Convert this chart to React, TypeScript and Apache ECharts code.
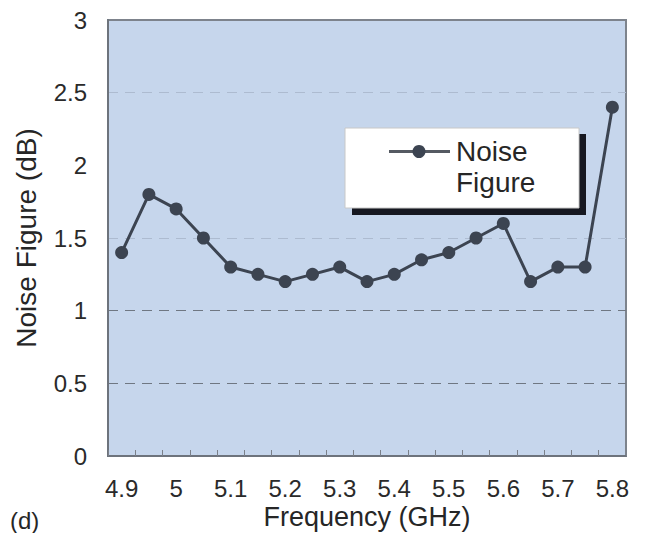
import React, { useEffect, useRef } from "react";
import * as echarts from "echarts";

const frequencies: number[] = [4.9, 4.95, 5.0, 5.05, 5.1, 5.15, 5.2, 5.25, 5.3, 5.35, 5.4, 5.45, 5.5, 5.55, 5.6, 5.65, 5.7, 5.75, 5.8];
const noiseFigure: number[] = [1.4, 1.8, 1.7, 1.5, 1.3, 1.25, 1.2, 1.25, 1.3, 1.2, 1.25, 1.35, 1.4, 1.5, 1.6, 1.2, 1.3, 1.3, 2.4];
const seriesName = "Noise Figure";
const xAxisTitle = "Frequency (GHz)";
const yAxisTitle = "Noise Figure (dB)";
const panelLabel = "(d)";

const FONT = "'Liberation Sans', Arial, Helvetica, sans-serif";
const LINE_COLOR = "#3c4451";

export default function App() {
  const ref = useRef<HTMLDivElement>(null);
  useEffect(() => {
    if (!ref.current) return;
    const chart = echarts.init(ref.current, undefined, { renderer: "svg" });
    const option: any = {
      animation: false,
      backgroundColor: "#ffffff",
      textStyle: { fontFamily: FONT },
      grid: {
        left: 108,
        right: 19,
        top: 20,
        bottom: 77,
        containLabel: false,
        outerBoundsMode: "none",
        show: true,
        backgroundColor: "#c6d6ec",
        borderColor: "#7d838c",
        borderWidth: 2,
      },
      xAxis: {
        type: "category",
        data: frequencies.map((f) => String(f)),
        boundaryGap: true,
        name: xAxisTitle,
        nameLocation: "middle",
        nameGap: 52,
        nameMoveOverlap: false,
        nameTextStyle: { fontSize: 27, lineHeight: 18, color: "#262626", fontFamily: FONT },
        axisLine: { show: true, lineStyle: { color: "#6d737c", width: 2 } },
        axisTick: { show: true, inside: true, length: 6, interval: 0, lineStyle: { color: "#7a8089", width: 1 } },
        axisLabel: {
          interval: 1,
          margin: 24,
          fontSize: 24,
          lineHeight: 16,
          color: "#2a2a2a",
          fontFamily: FONT,
          formatter: (v: string) => String(parseFloat(v)),
        },
        splitLine: { show: false },
      },
      yAxis: {
        type: "value",
        min: 0,
        max: 3,
        interval: 0.5,
        name: yAxisTitle,
        nameLocation: "middle",
        nameGap: 68,
        nameMoveOverlap: false,
        nameTextStyle: { fontSize: 28, color: "#262626", fontFamily: FONT },
        axisLine: { show: true, lineStyle: { color: "#6d737c", width: 2 } },
        axisTick: { show: false },
        axisLabel: { margin: 21, fontSize: 24, color: "#2a2a2a", fontFamily: FONT },
        splitLine: {
          show: true,
          lineStyle: {
            type: [10, 7],
            width: 1,
            color: [
              "rgba(0,0,0,0)",
              "#6f7782",
              "#6f7782",
              "#adbbd0",
              "rgba(0,0,0,0)",
              "#adbbd0",
              "rgba(0,0,0,0)",
            ],
          },
        },
      },
      series: [
        {
          name: seriesName,
          type: "line",
          data: noiseFigure,
          symbol: "circle",
          symbolSize: 13,
          lineStyle: { color: LINE_COLOR, width: 3 },
          itemStyle: { color: LINE_COLOR },
          z: 3,
        },
      ],
      graphic: [
        { type: "rect", z: 10, shape: { x: 352, y: 134, width: 234, height: 81 }, style: { fill: "#161821" } },
        { type: "rect", z: 11, shape: { x: 345, y: 128, width: 234, height: 80 }, style: { fill: "#ffffff", stroke: "#c8c8c8", lineWidth: 1 } },
        { type: "line", z: 12, shape: { x1: 389, y1: 151.5, x2: 450, y2: 151.5 }, style: { stroke: "#555a62", lineWidth: 3 } },
        { type: "circle", z: 13, shape: { cx: 419, cy: 151.5, r: 6.5 }, style: { fill: LINE_COLOR } },
        {
          type: "text",
          z: 13,
          x: 456,
          y: 136,
          style: {
            text: "Noise\nFigure",
            fontSize: 28,
            lineHeight: 31,
            fontFamily: FONT,
            fill: "#262626",
            verticalAlign: "top",
            align: "left",
          },
        },
        {
          type: "text",
          z: 13,
          x: 10,
          y: 520,
          style: { text: panelLabel, fontSize: 24, fontFamily: FONT, fill: "#262626", verticalAlign: "middle", align: "left" },
        },
      ],
    };
    chart.setOption(option);
    return () => chart.dispose();
  }, []);
  return <div ref={ref} style={{ position: "fixed", left: 0, top: 0, width: 645, height: 533 }} />;
}
